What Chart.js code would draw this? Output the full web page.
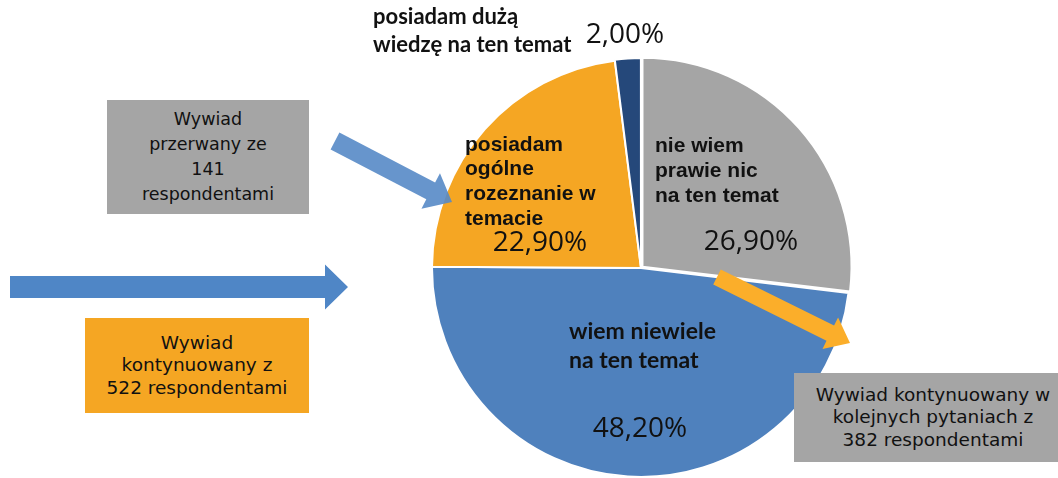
<!DOCTYPE html>
<html>
<head>
<meta charset="utf-8">
<script src="https://cdn.jsdelivr.net/npm/chart.js@4.4.1/dist/chart.umd.min.js"></script>
<style>
  html, body { margin: 0; padding: 0; background: #fff; }
  #wrap { position: relative; width: 1058px; height: 478px; overflow: hidden; }
  #pie { position: absolute; left: 0; top: 0; }
  .box {
    position: absolute; box-sizing: border-box;
    display: flex; align-items: center; justify-content: center;
    text-align: center; font-family: "DejaVu Sans", sans-serif; color: #111;
  }
  #box1 { left: 107px; top: 100px; width: 202px; height: 114px; background: #a5a5a5; font-size: 17.5px; line-height: 25px; }
  #box2 { left: 85px; top: 318px; width: 224px; height: 95px; background: #f5a623; font-size: 18.5px; line-height: 22.5px; }
  #box3 { left: 794px; top: 373px; width: 264px; height: 89px; background: #a5a5a5; font-size: 18.5px; line-height: 22.5px; padding-left: 14px; }
</style>
</head>
<body>
<div id="wrap">
  <canvas id="pie" width="1058" height="478"></canvas>
  <div class="box" id="box1"><div>Wywiad<br>przerwany ze<br>141<br>respondentami</div></div>
  <div class="box" id="box2"><div>Wywiad<br>kontynuowany z<br>522 respondentami</div></div>
  <div class="box" id="box3"><div>Wywiad kontynuowany w<br>kolejnych pytaniach z<br>382 respondentami</div></div>
</div>
<script>
// ---------- DATA ----------
const categories = [
    "nie wiem prawie nic na ten temat",
    "wiem niewiele na ten temat",
    "posiadam ogólne rozeznanie w temacie",
    "posiadam dużą wiedzę na ten temat"
];
const shares = [26.9, 48.2, 22.9, 2.0];

// how each category label is broken into lines
const categoryLines = [
    ["nie wiem", "prawie nic", "na ten temat"],
    ["wiem niewiele", "na ten temat"],
    ["posiadam", "ogólne", "rozeznanie w", "temacie"],
    ["posiadam dużą", "wiedzę na ten temat"]
];

const sliceColors = ["#a5a5a5", "#4f81bd", "#f5a623", "#25487a"];

// ---------- LABEL LAYOUT (offsets from pie centre, px) ----------
const labelStyle = [
    { cat: [14, -122], lh: 25, font: "bold 21px 'Liberation Sans', Arial", pct: [110, -26] },
    { cat: [-72, 64], lh: 29, font: "bold 23px Lato, sans-serif", pct: [-1, 161] },
    { cat: [-176, -123], lh: 24.7, font: "bold 21px 'Liberation Sans', Arial", pct: [-101, -25] },
    { cat: [-268, -251], lh: 28, font: "bold 22px Lato, sans-serif", pct: [-16, -233] }
];

const fmtPct = v => v.toFixed(2).replace(".", ",") + "%";

const labelPlugin = {
    id: "sliceLabels",
    afterDatasetsDraw(chart) {
        const { ctx } = chart;
        const arcs = chart.getDatasetMeta(0).data;
        ctx.save();
        ctx.fillStyle = "#111";
        ctx.textBaseline = "middle";
        arcs.forEach((arc, i) => {
            const s = labelStyle[i];
            ctx.font = s.font;
            ctx.textAlign = "left";
            categoryLines[i].forEach((line, k) => {
                ctx.fillText(line, arc.x + s.cat[0], arc.y + s.cat[1] + k * s.lh);
            });
            ctx.font = "28px 'Open Sans', sans-serif";
            ctx.textAlign = "center";
            ctx.fillText(fmtPct(chart.data.datasets[0].data[i]), arc.x + s.pct[0], arc.y + s.pct[1]);
        });
        ctx.restore();
    }
};

// ---------- ARROWS ----------
function arrow(ctx, x0, y0, x1, y1, shaft, head, headLen, color) {
    const a = Math.atan2(y1 - y0, x1 - x0);
    const len = Math.hypot(x1 - x0, y1 - y0);
    ctx.save();
    ctx.translate(x0, y0);
    ctx.rotate(a);
    ctx.fillStyle = color;
    ctx.beginPath();
    ctx.moveTo(0, -shaft / 2);
    ctx.lineTo(len - headLen, -shaft / 2);
    ctx.lineTo(len - headLen, -head / 2);
    ctx.lineTo(len, 0);
    ctx.lineTo(len - headLen, head / 2);
    ctx.lineTo(len - headLen, shaft / 2);
    ctx.lineTo(0, shaft / 2);
    ctx.closePath();
    ctx.fill();
    ctx.restore();
}

const arrowPlugin = {
    id: "arrows",
    afterDraw(chart) {
        const { ctx } = chart;
        arrow(ctx, 10, 287, 348, 287, 22, 45, 23, "#4f86c6");
        ctx.globalAlpha = 0.9;
        arrow(ctx, 335, 141, 452, 202, 19, 40, 24, "#5689c6");
        ctx.globalAlpha = 1;
        arrow(ctx, 717, 277, 850, 343, 17, 35, 22, "#fbae2a");
    }
};

// ---------- INIT CHART ----------
new Chart(document.getElementById("pie"), {
    type: "pie",
    data: {
        labels: categories,
        datasets: [{
            data: shares,
            backgroundColor: sliceColors,
            borderColor: "#ffffff",
            borderWidth: 2,
            offset: [8, 0, 0, 2]
        }]
    },
    plugins: [labelPlugin, arrowPlugin],
    options: {
        responsive: false,
        animation: false,
        radius: 209,
        layout: { padding: { left: 432, right: 208, top: 58, bottom: 0 } },
        plugins: {
            legend: { display: false },
            tooltip: { enabled: false }
        }
    }
});
</script>
</body>
</html>
